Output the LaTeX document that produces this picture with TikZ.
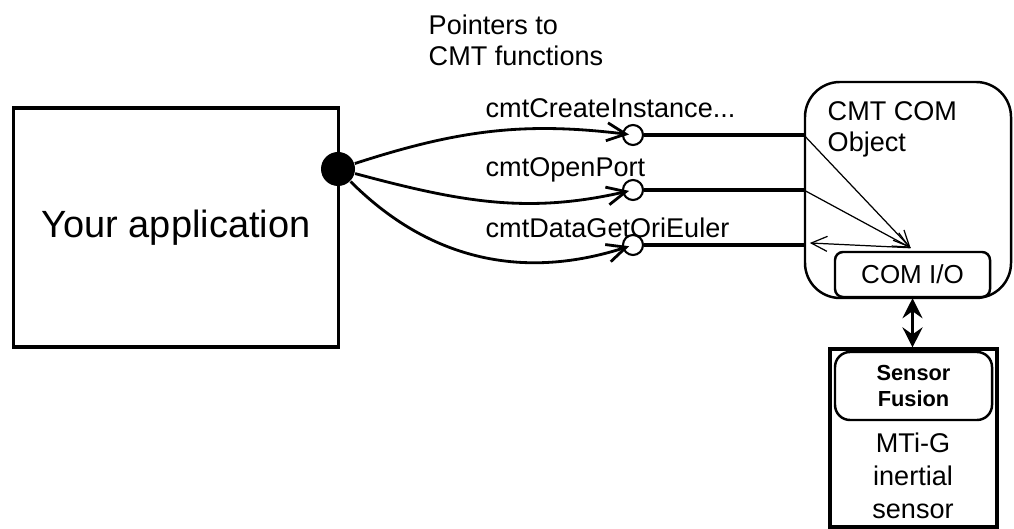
\documentclass[tikz,border=0pt]{standalone}
\usepackage{fontspec}
\setmainfont{Liberation Sans}
\usetikzlibrary{arrows.meta,calc}

\begin{document}
\begin{tikzpicture}[
  box/.style={rectangle, draw, line width=0.7pt, align=center, inner sep=0pt},
  txt/.style={font=\fontsize{7.7}{8.8}\selectfont, inner sep=0pt},
  port/.style={circle, draw, line width=0.6pt, fill=white, minimum size=2mm, inner sep=0pt},
  call/.style={-{Straight Barb[length=1.9mm, width=1.8mm]}, line width=0.8pt, shorten >=0.4mm},
  link/.style={line width=1.4pt},
  thin/.style={-{Straight Barb[length=1.6mm, width=1.5mm]}, line width=0.35pt},
  bus/.style={{Stealth[length=2mm, width=2mm, inset=0.7mm]}-{Stealth[length=2mm, width=2mm, inset=0.7mm]}, line width=1pt},
]
\useasboundingbox (0,0) rectangle (10.14,5.29);

% === APPLICATION SIDE ===
\node[box, line width=1pt, minimum width=3.25cm, minimum height=2.39cm, font=\fontsize{10.8}{12}\selectfont] (app) at (1.76, 3.015) {Your application};
\node[circle, fill=black, minimum size=3.4mm, inner sep=0pt] (hub) at (3.38, 3.60) {};

\node[txt, anchor=north west, align=left] (ptrs) at (4.28, 5.15) {Pointers to\\CMT functions};

% function pointers
\node[port] (ptr1) at (6.33, 3.94) {};
\node[port] (ptr2) at (6.33, 3.39) {};
\node[port] (ptr3) at (6.33, 2.84) {};
\node[txt, anchor=base west] (f1) at (4.85, 4.11) {cmtCreateInstance...};
\node[txt, anchor=base west] (f2) at (4.85, 3.52) {cmtOpenPort};
\node[txt, anchor=base west] (f3) at (4.85, 2.91) {cmtDataGetOriEuler};

\draw[call] (hub) to[out=18, in=173] (ptr1.center);
\draw[call] (hub) to[out=-15, in=193] (ptr2.center);
\draw[call] (hub) to[out=-45, in=198] (ptr3.center);

% === CMT COM OBJECT ===
\node[box, rounded corners=3.5mm, minimum width=2.06cm, minimum height=2.16cm] (com) at (9.08, 3.39) {};
\node[txt, anchor=north west, align=left] (comlbl) at (8.27, 4.28) {CMT COM\\Object};
\node[box, rounded corners=0.8mm, minimum width=1.55cm, minimum height=0.45cm, font=\fontsize{7.4}{8.8}\selectfont] (comio) at (9.125, 2.545) {COM I/O};

\coordinate (p1) at (ptr1 -| com.west);
\coordinate (p2) at (ptr2 -| com.west);
\coordinate (p3) at (ptr3 -| com.west);
\coordinate (io) at ($(comio.north)+(-0.02,0.03)$);

\draw[link] (ptr1) -- (p1);
\draw[link] (ptr2) -- (p2);
\draw[link] (ptr3) -- (p3);

\draw[thin] (p1) -- (io);
\draw[thin] (p2) -- (io);
\draw[thin] (io) -- ($(p3)+(0.06,0.02)$);

% === SENSOR ===
\node[box, line width=0.9pt, minimum width=1.67cm, minimum height=1.78cm] (sensor) at (9.135, 0.91) {};
\node[box, rounded corners=1.5mm, minimum width=1.57cm, minimum height=0.68cm, font=\bfseries\fontsize{6.2}{7.4}\selectfont] (fusion) at (9.135, 1.43) {Sensor\\Fusion};
\node[txt, anchor=north, align=center, font=\fontsize{7.7}{9.4}\selectfont] (mti) at (9.13, 0.97) {MTi-G\\inertial\\sensor};

\draw[bus] (comio.south) -- (comio.south |- sensor.north);
\end{tikzpicture}
\end{document}
